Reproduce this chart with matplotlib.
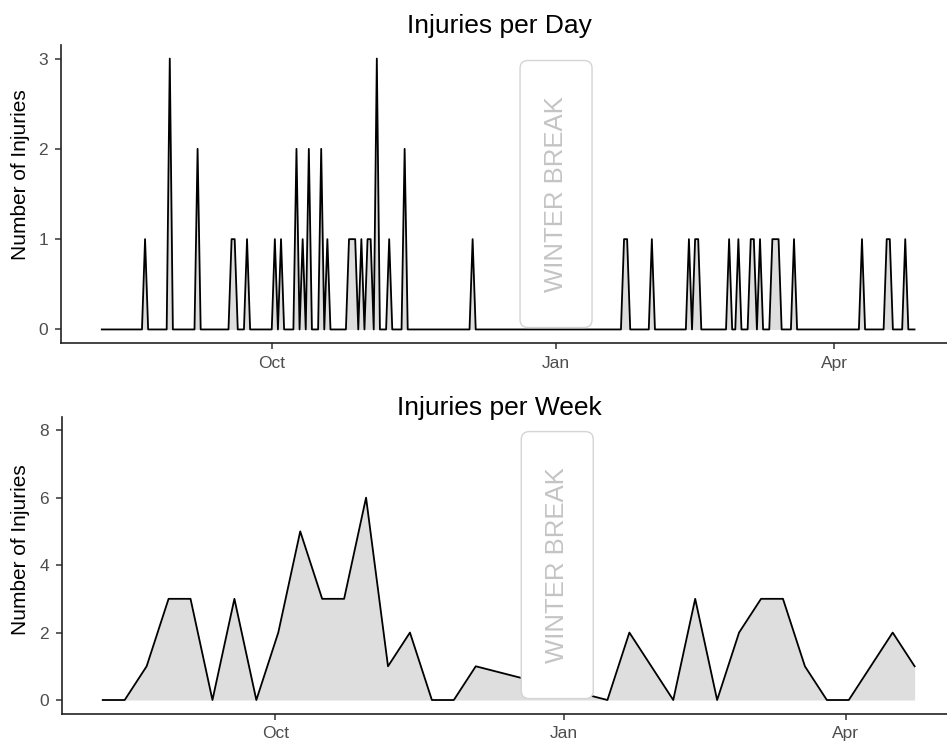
import pandas as pd
import matplotlib
matplotlib.use('Agg')
import matplotlib.pyplot as plt
import matplotlib.dates as mdates
from matplotlib.patches import FancyBboxPatch
from matplotlib.transforms import IdentityTransform

plt.rcParams['font.family'] = ['Liberation Sans', 'DejaVu Sans']

# season covered by the injury log
season_start = '2018-08-07'
season_end = '2019-04-27'

# days with at least one injury and how many
injury_dates = ['2018-08-21', '2018-08-29', '2018-09-07', '2018-09-18', '2018-09-19',
                '2018-09-23', '2018-10-02', '2018-10-04', '2018-10-09', '2018-10-11',
                '2018-10-13', '2018-10-17', '2018-10-19', '2018-10-26', '2018-10-27',
                '2018-10-28', '2018-10-30', '2018-11-01', '2018-11-02', '2018-11-04',
                '2018-11-08', '2018-11-13', '2018-12-05',
                '2019-01-23', '2019-01-24', '2019-02-01', '2019-02-13', '2019-02-15',
                '2019-02-16', '2019-02-26', '2019-03-01', '2019-03-05', '2019-03-06',
                '2019-03-08', '2019-03-12', '2019-03-13', '2019-03-14', '2019-03-19',
                '2019-04-10', '2019-04-18', '2019-04-19', '2019-04-24']
injury_counts = [1, 3, 2, 1, 1,
                 1, 1, 1, 2, 1,
                 2, 2, 1, 1, 1,
                 1, 1, 1, 1, 3,
                 1, 2, 1,
                 1, 1, 1, 1, 1,
                 1, 1, 1, 1, 1,
                 1, 1, 1, 1, 1,
                 1, 1, 1, 1]

# weekly totals, one per week from season_start (None = winter break, no sessions)
week_counts = [0, 0, 1, 3, 3, 0, 3, 0, 2, 5, 3, 3, 6, 1, 2, 0, 0, 1,
               None, None, None, None, None,
               0, 2, 1, 0, 3, 0, 2, 3, 3, 1, 0, 0, 1, 2, 1]

break_day_centre = '2019-01-01'
break_week_centre = '2018-12-30'

days = pd.date_range(season_start, season_end, freq='D')
daily = pd.Series(0.0, index=days)
daily[pd.to_datetime(injury_dates)] = injury_counts

weeks = pd.date_range(season_start, periods=len(week_counts), freq='7D')
weekly = pd.Series(week_counts, index=weeks, dtype=float).dropna()

W, H = 947, 746
fig = plt.figure(figsize=(W / 100, H / 100), dpi=100)


def px_axes(left, top, right, bottom):
    return fig.add_axes([left / W, (H - bottom) / H, (right - left) / W, (bottom - top) / H])


def draw_panel(ax, series, title, title_y, label_y, yticks, xlim, break_centre):
    ax.fill_between(series.index, series.values, 0, color='#dedede', lw=0, zorder=1)
    ax.plot(series.index, series.values, color='black', lw=1.3, zorder=2)

    ax.set_xlim(xlim)
    ymax = yticks[-1]
    ax.set_ylim(-0.05 * ymax, 1.05 * ymax)
    ax.set_yticks(yticks)
    ax.xaxis.set_major_locator(mdates.MonthLocator(bymonth=[1, 4, 10]))
    ax.xaxis.set_major_formatter(mdates.DateFormatter('%b'))

    for side in ['top', 'right']:
        ax.spines[side].set_visible(False)
    for side in ['left', 'bottom']:
        ax.spines[side].set_linewidth(1.2)
        ax.spines[side].set_color('#222222')
    ax.tick_params(length=4.3, width=1.1, color='#333333', labelcolor='#4d4d4d',
                   labelsize=12.5, pad=5)

    # winter break label: fixed-size rounded box centred on the break
    bx = mdates.date2num(pd.Timestamp(break_centre))
    cx, cy = ax.transData.transform((bx, ymax / 2))
    bw, bh = 72, 267
    box = FancyBboxPatch((cx - bw / 2, cy - bh / 2), bw, bh,
                         boxstyle='round,pad=0,rounding_size=8',
                         transform=IdentityTransform(), fc='white', ec='#d4d4d4',
                         lw=1.0, zorder=3)
    ax.add_patch(box)
    ax.text(bx, ymax / 2, 'WINTER BREAK', rotation=90, ha='center', va='center',
            color='#c4c4c4', fontsize=18.5, zorder=4)

    fig.text(499.5 / W, (H - title_y) / H, title, ha='center', va='baseline', fontsize=19)
    fig.text(21 / W, (H - label_y) / H, 'Number of Injuries', rotation=90,
             ha='center', va='center', fontsize=15)


oct1 = mdates.date2num(pd.Timestamp('2018-10-01'))

ax1 = px_axes(61, 45, 955, 343)
draw_panel(ax1, daily, 'Injuries per Day', 33, 175, [0, 1, 2, 3],
           (oct1 - 68.2, oct1 + 221.1), break_day_centre)

ax2 = px_axes(62, 416.7, 956, 713.5)
draw_panel(ax2, weekly, 'Injuries per Week', 415, 550, [0, 2, 4, 6, 8],
           (oct1 - 68.0, oct1 + 217.2), break_week_centre)

fig.savefig('out.png', dpi=100)
